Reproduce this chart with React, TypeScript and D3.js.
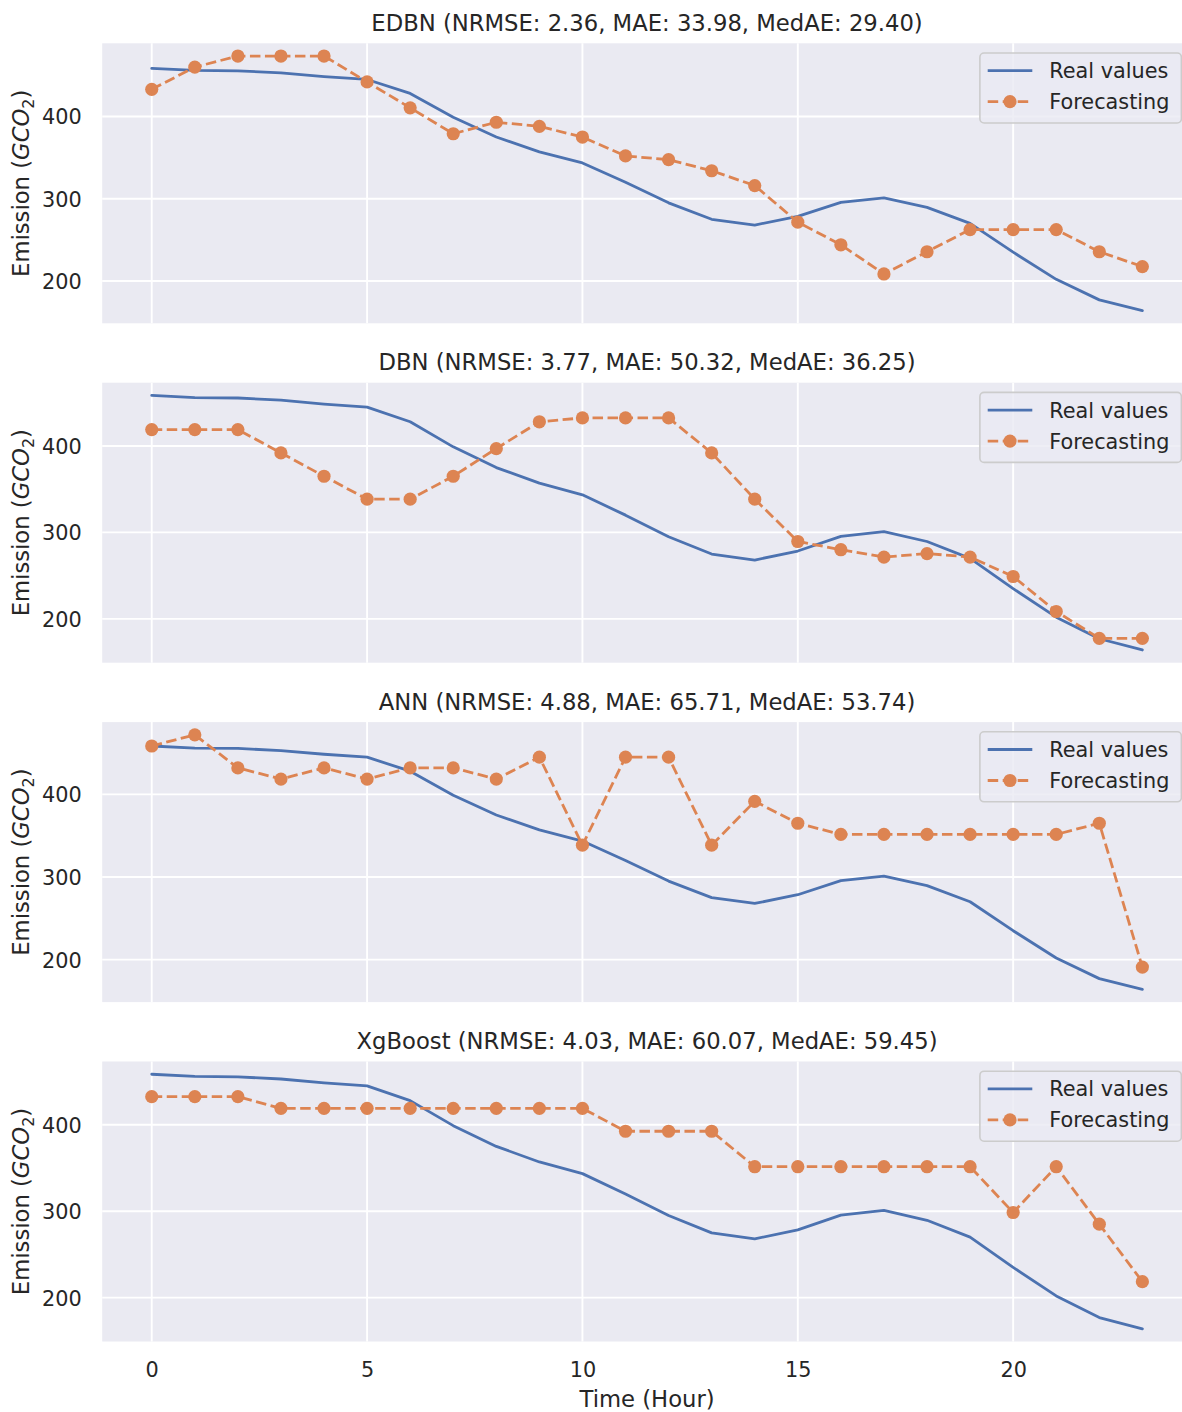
import React, { useEffect, useRef } from "react";
import * as d3 from "d3";

const hours = [0, 1, 2, 3, 4, 5, 6, 7, 8, 9, 10, 11, 12, 13, 14, 15, 16, 17, 18, 19, 20, 21, 22, 23];

const realValues = [458.5, 456, 455.5, 453, 448.5, 445, 428, 399, 375, 357, 343.5, 320, 295, 275, 268, 278.5, 295.5, 301, 289.5, 270, 235, 202, 177, 164];

const edbnForecast = [433, 460, 473.5, 473.5, 473.5, 442, 410.5, 379, 393, 388, 375, 352, 347.5, 334, 316, 271.5, 244, 208.5, 235.5, 262.5, 262.5, 262.5, 235.5, 217.5];
const dbnForecast = [419, 419, 419, 392, 365, 338.5, 338.5, 365, 397, 428, 432.5, 432.5, 432.5, 392, 338.5, 289.5, 280, 271.5, 275.5, 271.5, 249, 208.5, 177.5, 177.5];
const annForecast = [458.5, 472, 432, 418.5, 432, 418.5, 432, 432, 418.5, 445, 338.5, 445, 445, 338.5, 391.5, 365, 351.5, 351.5, 351.5, 351.5, 351.5, 351.5, 365, 191];
const xgbForecast = [432.5, 432.5, 432.5, 419, 419, 419, 419, 419, 419, 419, 419, 392.5, 392.5, 392.5, 351.5, 351.5, 351.5, 351.5, 351.5, 351.5, 298.5, 351.5, 285, 218.5];

const panelTitles = [
  "EDBN (NRMSE: 2.36, MAE: 33.98, MedAE: 29.40)",
  "DBN (NRMSE: 3.77, MAE: 50.32, MedAE: 36.25)",
  "ANN (NRMSE: 4.88, MAE: 65.71, MedAE: 53.74)",
  "XgBoost (NRMSE: 4.03, MAE: 60.07, MedAE: 59.45)",
];
const forecasts = [edbnForecast, dbnForecast, annForecast, xgbForecast];

const xTicks = [0, 5, 10, 15, 20];
const yTicks = [200, 300, 400];
const legendLabels = ["Real values", "Forecasting"];

const App: React.FC = () => {
  const ref = useRef<SVGSVGElement>(null);

  useEffect(() => {
    if (!ref.current) return;
    const svg = d3.select(ref.current);
    svg.selectAll("*").remove();

    const W = 1182;
    const left = 102.2;
    const right = 1191.9;
    const firstTop = 43.3;
    const step = 339.4;
    const panelH = 280;
    const font = "'DejaVu Sans', Verdana, sans-serif";
    const ink = "#262626";
    const blue = "#4C72B0";
    const orange = "#DD8452";
    const lw = 2.8;
    const dash = "10.5,4.5";

    const x = d3.scaleLinear().domain([-1.15, 24.15]).range([left, right]);

    const line = d3
      .line<number>()
      .x((_, i) => x(hours[i]));

    panelTitles.forEach((title, i) => {
      const top = firstTop + i * step;
      const bottom = top + panelH;
      const forecast = forecasts[i];
      const [lo, hi] = d3.extent(realValues.concat(forecast)) as [number, number];
      const pad = (hi - lo) * 0.05;
      const y = d3.scaleLinear().domain([lo - pad, hi + pad]).range([bottom, top]);

      const g = svg.append("g");

      g.append("rect")
        .attr("x", left)
        .attr("y", top)
        .attr("width", right - left)
        .attr("height", panelH)
        .attr("fill", "#EAEAF2");

      // grid
      g.selectAll("line.xgrid")
        .data(xTicks)
        .enter()
        .append("line")
        .attr("x1", (d) => x(d))
        .attr("x2", (d) => x(d))
        .attr("y1", top)
        .attr("y2", bottom)
        .attr("stroke", "#fff")
        .attr("stroke-width", 1.9);
      g.selectAll("line.ygrid")
        .data(yTicks)
        .enter()
        .append("line")
        .attr("x1", left)
        .attr("x2", right)
        .attr("y1", (d) => y(d))
        .attr("y2", (d) => y(d))
        .attr("stroke", "#fff")
        .attr("stroke-width", 1.9);

      // y axis
      const ya = g
        .append("g")
        .attr("transform", `translate(${left},0)`)
        .call(d3.axisLeft(y).tickValues(yTicks).tickSize(0).tickPadding(20.5));
      ya.select(".domain").remove();
      ya.selectAll("text")
        .attr("font-family", font)
        .attr("font-size", 20.8)
        .attr("fill", ink)
        .attr("dy", "0.36em");

      // x axis on last panel
      if (i === panelTitles.length - 1) {
        const xa = g
          .append("g")
          .attr("transform", `translate(0,${bottom})`)
          .call(d3.axisBottom(x).tickValues(xTicks).tickSize(0).tickPadding(21.2));
        xa.select(".domain").remove();
        xa.selectAll("text")
          .attr("font-family", font)
          .attr("font-size", 20.8)
          .attr("fill", ink);

        g.append("text")
          .attr("x", (left + right) / 2)
          .attr("y", 1407)
          .attr("text-anchor", "middle")
          .attr("font-family", font)
          .attr("font-size", 22.7)
          .attr("fill", ink)
          .text("Time (Hour)");
      }

      // y label
      const yl = g
        .append("text")
        .attr("transform", `translate(29.3,${(top + bottom) / 2}) rotate(-90)`)
        .attr("text-anchor", "middle")
        .attr("font-family", font)
        .attr("font-size", 22.7)
        .attr("fill", ink);
      yl.append("tspan").text("Emission (");
      yl.append("tspan").attr("font-style", "italic").text("GCO");
      yl.append("tspan").attr("font-size", 15.9).attr("dy", 4.5).text("2");
      yl.append("tspan").attr("dy", -4.5).text(")");

      // title
      g.append("text")
        .attr("x", (left + right) / 2)
        .attr("y", top - 12.6)
        .attr("text-anchor", "middle")
        .attr("font-family", font)
        .attr("font-size", 22.7)
        .attr("fill", ink)
        .text(title);

      // real values
      g.append("path")
        .datum(realValues)
        .attr("d", line.y((d) => y(d)))
        .attr("fill", "none")
        .attr("stroke", blue)
        .attr("stroke-width", lw)
        .attr("stroke-linejoin", "round")
        .attr("stroke-linecap", "round");

      // forecast
      g.append("path")
        .datum(forecast)
        .attr("d", line.y((d) => y(d)))
        .attr("fill", "none")
        .attr("stroke", orange)
        .attr("stroke-width", lw)
        .attr("stroke-dasharray", dash)
        .attr("stroke-linejoin", "round");
      g.selectAll("circle.pt")
        .data(forecast)
        .enter()
        .append("circle")
        .attr("cx", (_, j) => x(hours[j]))
        .attr("cy", (d) => y(d))
        .attr("r", 6.6)
        .attr("fill", orange);

      // legend
      const lg = g.append("g");
      lg.append("rect")
        .attr("x", right - 212)
        .attr("y", top + 9.7)
        .attr("width", 201.5)
        .attr("height", 70)
        .attr("rx", 4.2)
        .attr("fill", "#EAEAF2")
        .attr("fill-opacity", 0.8)
        .attr("stroke", "#CCCCCC")
        .attr("stroke-width", 1.6);
      legendLabels.forEach((lab, k) => {
        const ry = top + 27.4 + k * 31;
        const hx0 = right - 204.2;
        const hx1 = right - 159.6;
        lg.append("line")
          .attr("x1", hx0)
          .attr("x2", hx1)
          .attr("y1", ry)
          .attr("y2", ry)
          .attr("stroke", k === 0 ? blue : orange)
          .attr("stroke-width", lw)
          .attr("stroke-dasharray", k === 0 ? null : dash);
        if (k === 1) {
          lg.append("circle")
            .attr("cx", (hx0 + hx1) / 2)
            .attr("cy", ry)
            .attr("r", 6.6)
            .attr("fill", orange);
        }
        lg.append("text")
          .attr("x", right - 142.6)
          .attr("y", ry)
          .attr("dy", "0.36em")
          .attr("font-family", font)
          .attr("font-size", 20.8)
          .attr("fill", ink)
          .text(lab);
      });
    });
    svg.attr("width", W);
  }, []);

  return (
    <svg
      ref={ref}
      width={1182}
      height={1412}
      style={{ position: "absolute", left: 0, top: 0, background: "#fff" }}
    />
  );
};

export default App;
